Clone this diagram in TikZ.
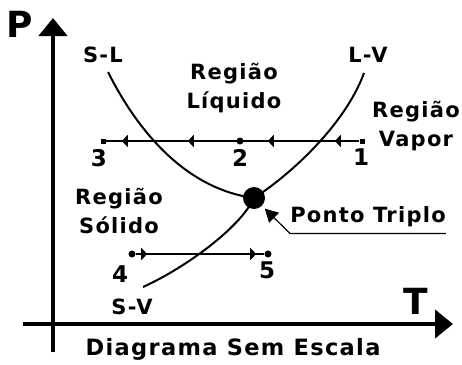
\documentclass[tikz,border=0pt]{standalone}
\usepackage{fontspec}
\usetikzlibrary{arrows.meta,decorations.markings}
\newfontfamily\diafont{DejaVu Sans}[LetterSpace=6]
\newcommand\txtfont{\diafont\bfseries\fontsize{21}{29}\selectfont}
\newcommand\notefont{\diafont\bfseries\fontsize{22.5}{29}\selectfont}
\newcommand\numfont{\diafont\bfseries\fontsize{23}{28}\selectfont}
\newcommand\axfont{\diafont\bfseries\fontsize{36}{40}\selectfont}

\begin{document}
\begin{tikzpicture}[x=1pt,y=-1pt,
  axis/.style={line width=4.5pt,-{Triangle[length=18pt,width=28pt]}},
  curve/.style={line width=2pt},
  sqdot/.style={rectangle,fill,inner sep=0pt,minimum size=5pt},
  rddot/.style={circle,fill,inner sep=0pt,minimum size=7pt},
  txt/.style={font=\txtfont,anchor=base,inner sep=0pt},
  region/.style={txt,align=center},
  every label/.append style={font=\numfont},
  path13/.style={line width=1.4pt,postaction={decorate},
    decoration={markings,
      mark=at position 24.5pt with {\arrow{Triangle[length=6pt,width=12pt]}},
      mark=at position 91.5pt with {\arrow{Triangle[length=6pt,width=12pt]}},
      mark=at position 171.5pt with {\arrow{Triangle[length=6pt,width=12pt]}},
      mark=at position 237.5pt with {\arrow{Triangle[length=6pt,width=12pt]}}}},
  path45/.style={line width=1.4pt,postaction={decorate},
    decoration={markings,
      mark=at position 11.5pt with {\arrow{Triangle[length=6pt,width=12pt]}},
      mark=at position 120.5pt with {\arrow{Triangle[length=6pt,width=12pt]}}}},
  pointer/.style={line width=1.2pt,-{Triangle[length=13pt,width=14pt]},shorten >=4pt}]
\useasboundingbox (0,0) rectangle (462,364);

% axes
\coordinate (ybot) at (53,352);
\coordinate (ytop) at (53,18);
\coordinate (xleft) at (23,324);
\coordinate (xright) at (453,324);
\draw[axis] (ybot)--(ytop);
\draw[axis] (xleft)--(xright);
\node[font=\axfont,anchor=base,inner sep=0pt] (plbl) at (20,37) {P};
\node[font=\axfont,anchor=base,inner sep=0pt] (tlbl) at (416,314) {T};

% phase boundaries
\node[circle,fill,inner sep=0pt,minimum size=22pt] (tp) at (254,198) {};
\coordinate (slend) at (108,72);
\coordinate (lvend) at (364,73);
\coordinate (svend) at (143,287);
\draw[curve] (slend) .. controls (133,122) and (180,188) .. (tp.center);
\draw[curve] (tp.center) .. controls (290,175) and (345,125) .. (lvend);
\draw[curve] (tp.center) .. controls (240,228) and (185,268) .. (svend);
\node[txt] (sl) at (103,62) {S-L};
\node[txt] (lv) at (368,62) {L-V};
\node[txt] (sv) at (132,314) {S-V};

% states
\node[sqdot,label={[xshift=-4pt,yshift=-1.8pt]below:3}] (s3) at (103,141) {};
\node[rddot,label={[yshift=-0.8pt]below:2}] (s2) at (240,141) {};
\node[sqdot,label={[xshift=-1pt,yshift=-1.8pt]below:1}] (s1) at (362,141) {};
\node[rddot,label={[xshift=-12pt,yshift=-4.8pt]below:4}] (s4) at (132,254) {};
\node[rddot,label={[xshift=-1pt,yshift=-0.8pt]below:5}] (s5) at (268,254) {};
\draw[path13] (s1)--(s3);
\draw[path45] (s4)--(s5);

% regions (base = last line)
\node[region] (liq) at (234,108) {Região\\Líquido};
\node[region] (vap) at (416,146) {Região\\Vapor};
\node[region] (sol) at (119,233) {Região\\Sólido};

% triple point
\node[txt,inner ysep=7pt] (ptlbl) at (368,222) {Ponto Triplo};
\draw[pointer] (ptlbl.south east)--(ptlbl.south west)--(tp);

\node[txt,font=\notefont] (note) at (233,355) {Diagrama Sem Escala};
\end{tikzpicture}
\end{document}
